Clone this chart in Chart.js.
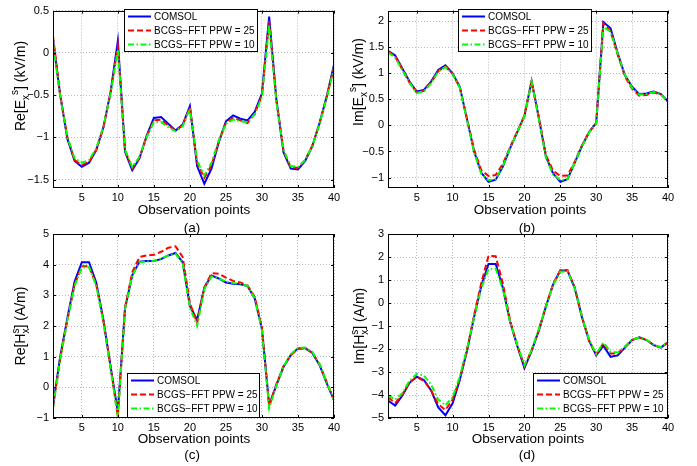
<!DOCTYPE html>
<html>
<head>
<meta charset="utf-8">
<script src="https://cdn.jsdelivr.net/npm/chart.js@4.4.0/dist/chart.umd.min.js"></script>
<style>
  html, body { margin: 0; padding: 0; background: #fff; }
  #fig { position: relative; width: 697px; height: 466px; }
  #fig canvas { position: absolute; left: 0; top: 0; }
</style>
</head>
<body>
<div id="fig">
  <canvas id="panelA" width="697" height="466"></canvas>
  <canvas id="panelB" width="697" height="466"></canvas>
  <canvas id="panelC" width="697" height="466"></canvas>
  <canvas id="panelD" width="697" height="466"></canvas>
</div>
<script>
// observation points on the x axis
const obsPoints = [1, 2, 3, 4, 5, 6, 7, 8, 9, 10, 11, 12, 13, 14, 15, 16, 17, 18, 19, 20,
  21, 22, 23, 24, 25, 26, 27, 28, 29, 30, 31, 32, 33, 34, 35, 36, 37, 38, 39, 40];
const xTicks = [5, 10, 15, 20, 25, 30, 35, 40];
const seriesNames = ['COMSOL', 'BCGS\u2212FFT PPW = 25', 'BCGS\u2212FFT PPW = 10'];

// (a) Re[Ex^s]  kV/m
const reExComsol = [0.16, -0.5, -1.02, -1.28, -1.35, -1.3, -1.15, -0.88, -0.46, 0.14, -1.17, -1.39, -1.25, -0.98, -0.77, -0.76, -0.84, -0.92, -0.85, -0.63,
  -1.34, -1.55, -1.37, -1.06, -0.81, -0.74, -0.78, -0.8, -0.7, -0.48, 0.43, -0.55, -1.18, -1.37, -1.38, -1.28, -1.1, -0.83, -0.51, -0.14];
const reExPpw25 = [0.2, -0.5, -1.0, -1.27, -1.33, -1.29, -1.15, -0.88, -0.47, 0.08, -1.15, -1.37, -1.24, -0.99, -0.8, -0.79, -0.86, -0.92, -0.86, -0.64,
  -1.3, -1.48, -1.33, -1.05, -0.83, -0.77, -0.8, -0.83, -0.72, -0.5, 0.38, -0.56, -1.16, -1.36, -1.36, -1.27, -1.1, -0.83, -0.52, -0.17];
const reExPpw10 = [0.12, -0.52, -1.0, -1.25, -1.3, -1.27, -1.13, -0.87, -0.48, 0.04, -1.15, -1.35, -1.23, -1.0, -0.82, -0.82, -0.88, -0.93, -0.87, -0.66,
  -1.28, -1.45, -1.3, -1.04, -0.84, -0.79, -0.81, -0.82, -0.73, -0.52, 0.33, -0.58, -1.15, -1.34, -1.35, -1.27, -1.1, -0.84, -0.53, -0.18];
const reExTicks = [-1.5, -1, -0.5, 0, 0.5];

// (b) Im[Ex^s]  kV/m
const imExComsol = [1.43, 1.34, 1.09, 0.84, 0.65, 0.68, 0.84, 1.06, 1.15, 1.0, 0.74, 0.12, -0.5, -0.91, -1.08, -1.04, -0.79, -0.44, -0.13, 0.18,
  0.85, 0.15, -0.6, -0.92, -1.08, -1.03, -0.72, -0.4, -0.13, 0.05, 1.98, 1.86, 1.38, 0.96, 0.74, 0.6, 0.61, 0.65, 0.6, 0.46];
const imExPpw25 = [1.42, 1.32, 1.07, 0.82, 0.63, 0.66, 0.82, 1.04, 1.13, 0.99, 0.73, 0.13, -0.47, -0.86, -0.97, -0.95, -0.74, -0.42, -0.12, 0.19,
  0.84, 0.16, -0.57, -0.87, -0.97, -0.96, -0.7, -0.39, -0.13, 0.04, 1.96, 1.8, 1.35, 0.94, 0.7, 0.57, 0.58, 0.63, 0.6, 0.45];
const imExPpw10 = [1.4, 1.3, 1.06, 0.82, 0.62, 0.65, 0.81, 1.03, 1.12, 0.98, 0.72, 0.1, -0.52, -0.93, -1.05, -1.03, -0.78, -0.44, -0.13, 0.17,
  0.84, 0.13, -0.62, -0.94, -1.05, -1.03, -0.72, -0.41, -0.14, 0.04, 1.88, 1.8, 1.37, 0.97, 0.72, 0.59, 0.6, 0.64, 0.6, 0.45];
const imExTicks = [-1, -0.5, 0, 0.5, 1, 1.5, 2];

// (c) Re[Hx^s]  A/m
const reHxComsol = [-0.6, 1.0, 2.26, 3.45, 4.08, 4.08, 3.42, 2.2, 0.67, -0.8, 2.58, 3.65, 4.1, 4.12, 4.12, 4.18, 4.3, 4.38, 4.08, 2.65,
  2.2, 3.25, 3.65, 3.55, 3.42, 3.38, 3.36, 3.3, 2.9, 1.9, -0.58, 0.07, 0.67, 1.05, 1.27, 1.28, 1.12, 0.72, 0.13, -0.42];
const reHxPpw25 = [-0.65, 0.95, 2.2, 3.35, 3.95, 3.95, 3.35, 2.15, 0.65, -0.95, 2.6, 3.75, 4.25, 4.3, 4.32, 4.42, 4.55, 4.6, 4.25, 2.75,
  2.1, 3.25, 3.72, 3.7, 3.58, 3.47, 3.42, 3.32, 2.95, 1.95, -0.6, 0.1, 0.7, 1.05, 1.25, 1.27, 1.12, 0.75, 0.15, -0.4];
const reHxPpw10 = [-0.7, 0.92, 2.18, 3.32, 3.9, 3.92, 3.32, 2.12, 0.6, -0.98, 2.55, 3.65, 4.08, 4.1, 4.12, 4.2, 4.3, 4.36, 4.05, 2.6,
  2.0, 3.2, 3.62, 3.55, 3.45, 3.4, 3.38, 3.3, 2.9, 1.85, -0.68, 0.05, 0.68, 1.08, 1.28, 1.3, 1.15, 0.76, 0.15, -0.42];
const reHxTicks = [-1, 0, 1, 2, 3, 4, 5];

// (d) Im[Hx^s]  A/m
const imHxComsol = [-4.24, -4.46, -4.02, -3.47, -3.2, -3.35, -3.8, -4.54, -4.88, -4.36, -3.35, -2.09, -0.6, 0.74, 1.7, 1.7, 0.66, -0.82, -1.86, -2.83,
  -2.09, -1.2, -0.15, 0.81, 1.41, 1.41, 0.66, -0.6, -1.64, -2.28, -1.86, -2.34, -2.28, -1.94, -1.61, -1.49, -1.61, -1.83, -1.94, -1.71];
const imHxPpw25 = [-4.1, -4.35, -3.98, -3.45, -3.22, -3.38, -3.8, -4.4, -4.65, -4.2, -3.3, -2.05, -0.52, 0.88, 2.05, 2.03, 0.85, -0.75, -1.85, -2.75,
  -2.05, -1.2, -0.12, 0.82, 1.42, 1.42, 0.68, -0.58, -1.62, -2.25, -1.75, -2.2, -2.2, -1.9, -1.6, -1.5, -1.6, -1.82, -1.93, -1.72];
const imHxPpw10 = [-4.02, -4.2, -3.92, -3.38, -3.08, -3.15, -3.55, -4.2, -4.45, -4.1, -3.2, -2.0, -0.62, 0.65, 1.48, 1.48, 0.6, -0.82, -1.82, -2.7,
  -2.05, -1.15, -0.15, 0.78, 1.36, 1.38, 0.65, -0.58, -1.6, -2.22, -1.72, -2.12, -2.15, -1.9, -1.6, -1.5, -1.6, -1.82, -1.92, -1.72];
const imHxTicks = [-5, -4, -3, -2, -1, 0, 1, 2, 3];

const FONT = '"Liberation Sans", Arial, Helvetica, sans-serif';
const lineStyles = [
  { color: '#0000ff', dash: [] },
  { color: '#ff0000', dash: [6, 3] },
  { color: '#00ff00', dash: [6, 2.5, 1.5, 2.5] }
];

// MATLAB-style tick text: plain number, true minus sign
const tickText = v => String(v).replace('-', '\u2212');

function drawYLabel(ctx, parts, cx, cy) {
  ctx.save();
  ctx.translate(cx, cy);
  ctx.rotate(-Math.PI / 2);
  ctx.fillStyle = '#000';
  ctx.textBaseline = 'alphabetic';
  ctx.textAlign = 'left';
  let total = 0;
  parts.forEach(p => {
    ctx.font = p.s + 'px ' + FONT;
    p.w = ctx.measureText(p.t).width;
    if (p.adv !== false) total += p.w;
  });
  let x = -total / 2;
  const base = 5;
  parts.forEach(p => {
    ctx.font = p.s + 'px ' + FONT;
    ctx.fillText(p.t, x, base + (p.dy || 0));
    if (p.adv !== false) x += p.w;
  });
  ctx.restore();
}

const panelFrame = {
  id: 'panelFrame',
  afterDraw(chart, args, opts) {
    const { ctx, chartArea: a } = chart;
    const xs = chart.scales.x, ys = chart.scales.y;
    ctx.save();
    ctx.strokeStyle = '#000';
    ctx.lineWidth = 1;
    ctx.setLineDash([]);
    ctx.strokeRect(Math.round(a.left) + 0.5, Math.round(a.top) + 0.5,
      Math.round(a.right - a.left) - 1, Math.round(a.bottom - a.top) - 1);
    // inward tick marks
    ctx.beginPath();
    xTicks.forEach(v => {
      const px = Math.round(xs.getPixelForValue(v)) + 0.5;
      ctx.moveTo(px, a.bottom); ctx.lineTo(px, a.bottom - 3);
      ctx.moveTo(px, a.top); ctx.lineTo(px, a.top + 3);
    });
    opts.yTicks.forEach(v => {
      const py = Math.round(ys.getPixelForValue(v)) + 0.5;
      ctx.moveTo(a.left, py); ctx.lineTo(a.left + 3, py);
      ctx.moveTo(a.right, py); ctx.lineTo(a.right - 3, py);
    });
    ctx.stroke();

    // legend box
    const L = opts.legend;
    ctx.fillStyle = '#fff';
    ctx.fillRect(L.x, L.y, L.w, L.h);
    ctx.strokeRect(L.x + 0.5, L.y + 0.5, L.w - 1, L.h - 1);
    ctx.font = '10px ' + FONT;
    ctx.textBaseline = 'middle';
    ctx.textAlign = 'left';
    seriesNames.forEach((name, i) => {
      const ry = L.y + 7.5 + i * 14;
      ctx.strokeStyle = lineStyles[i].color;
      ctx.lineWidth = 2;
      ctx.setLineDash(lineStyles[i].dash);
      ctx.beginPath();
      ctx.moveTo(L.x + 4, ry); ctx.lineTo(L.x + 27, ry);
      ctx.stroke();
      ctx.fillStyle = '#000';
      ctx.fillText(name, L.x + 30, ry + 0.5);
    });
    ctx.setLineDash([]);

    // axis titles and panel tag
    ctx.fillStyle = '#000';
    ctx.textAlign = 'center';
    ctx.textBaseline = 'middle';
    ctx.font = '13.5px ' + FONT;
    ctx.fillText('Observation points', opts.xTitle.x, opts.xTitle.y);
    ctx.fillText(opts.tag, opts.tagPos.x, opts.tagPos.y);
    drawYLabel(ctx, opts.yLabel, opts.yPos.x, opts.yPos.y);
    ctx.restore();
  }
};

function makePanel(id, area, yRange, yTicks, series, frame) {
  const toPoints = arr => arr.map((v, i) => ({ x: obsPoints[i], y: v }));
  const datasets = series.map((arr, i) => ({
    label: seriesNames[i],
    data: toPoints(arr),
    borderColor: lineStyles[i].color,
    borderDash: lineStyles[i].dash,
    borderWidth: 2,
    pointRadius: 0,
    tension: 0,
    fill: false,
    order: 3 - i
  }));
  const tickFont = { family: FONT, size: 11 };
  const xHeight = 466 - area.bottom;
  new Chart(document.getElementById(id).getContext('2d'), {
    type: 'line',
    data: { datasets },
    plugins: [panelFrame],
    options: {
      responsive: false,
      animation: false,
      events: [],
      layout: { padding: { left: 0, top: area.top, right: 697 - area.right, bottom: 0 } },
      plugins: {
        legend: { display: false },
        tooltip: { enabled: false },
        panelFrame: Object.assign({ yTicks }, frame)
      },
      scales: {
        x: {
          type: 'linear', min: 1, max: 40,
          afterFit: s => { s.height = xHeight; },
          afterBuildTicks: s => { s.ticks = xTicks.map(v => ({ value: v })); },
          ticks: { font: tickFont, color: '#000', padding: 3, maxRotation: 0, autoSkip: false, callback: tickText },
          grid: { color: '#b8b8b8', lineWidth: 1, drawTicks: false },
          border: { display: false, dash: [1, 2] }
        },
        y: {
          type: 'linear', min: yRange[0], max: yRange[1],
          afterFit: s => { s.width = area.left; },
          afterBuildTicks: s => { s.ticks = yTicks.map(v => ({ value: v })); },
          ticks: { font: tickFont, color: '#000', padding: 4, autoSkip: false, callback: tickText },
          grid: { color: '#b8b8b8', lineWidth: 1, drawTicks: false },
          border: { display: false, dash: [1, 2] }
        }
      }
    }
  });
}

makePanel('panelA', { left: 53, right: 334, top: 9, bottom: 188 }, [-1.6, 0.5], reExTicks,
  [reExComsol, reExPpw25, reExPpw10], {
    legend: { x: 124, y: 9, w: 134, h: 43 },
    xTitle: { x: 194, y: 210 }, tag: '(a)', tagPos: { x: 192, y: 228 },
    yPos: { x: 20, y: 86 },
    yLabel: [{ t: 'Re[E', s: 14 }, { t: 'x', s: 10, dy: 3.5 }, { t: 's', s: 10, dy: -7 }, { t: '] (kV/m)', s: 14 }]
  });

makePanel('panelB', { left: 388, right: 668, top: 9, bottom: 188 }, [-1.2, 2.2], imExTicks,
  [imExComsol, imExPpw25, imExPpw10], {
    legend: { x: 458, y: 9, w: 134, h: 43 },
    xTitle: { x: 530, y: 210 }, tag: '(b)', tagPos: { x: 527, y: 228 },
    yPos: { x: 358, y: 82 },
    yLabel: [{ t: 'Im[E', s: 14 }, { t: 'x', s: 10, dy: 3.5 }, { t: 's', s: 10, dy: -7 }, { t: '] (kV/m)', s: 14 }]
  });

makePanel('panelC', { left: 53, right: 334, top: 234, bottom: 418 }, [-1, 5], reHxTicks,
  [reHxComsol, reHxPpw25, reHxPpw10], {
    legend: { x: 127, y: 373, w: 133, h: 45 },
    xTitle: { x: 194, y: 439 }, tag: '(c)', tagPos: { x: 192, y: 455 },
    yPos: { x: 20, y: 326 },
    yLabel: [{ t: 'Re[H', s: 14 }, { t: 's', s: 10, dy: -6, adv: false }, { t: 'x', s: 10, dy: 4 }, { t: '] (A/m)', s: 14 }]
  });

makePanel('panelD', { left: 388, right: 668, top: 234, bottom: 418 }, [-5, 3], imHxTicks,
  [imHxComsol, imHxPpw25, imHxPpw10], {
    legend: { x: 533, y: 373, w: 135, h: 45 },
    xTitle: { x: 528, y: 439 }, tag: '(d)', tagPos: { x: 527, y: 455 },
    yPos: { x: 359, y: 326 },
    yLabel: [{ t: 'Im[H', s: 14 }, { t: 's', s: 10, dy: -6, adv: false }, { t: 'x', s: 10, dy: 4 }, { t: '] (A/m)', s: 14 }]
  });
</script>
</body>
</html>
